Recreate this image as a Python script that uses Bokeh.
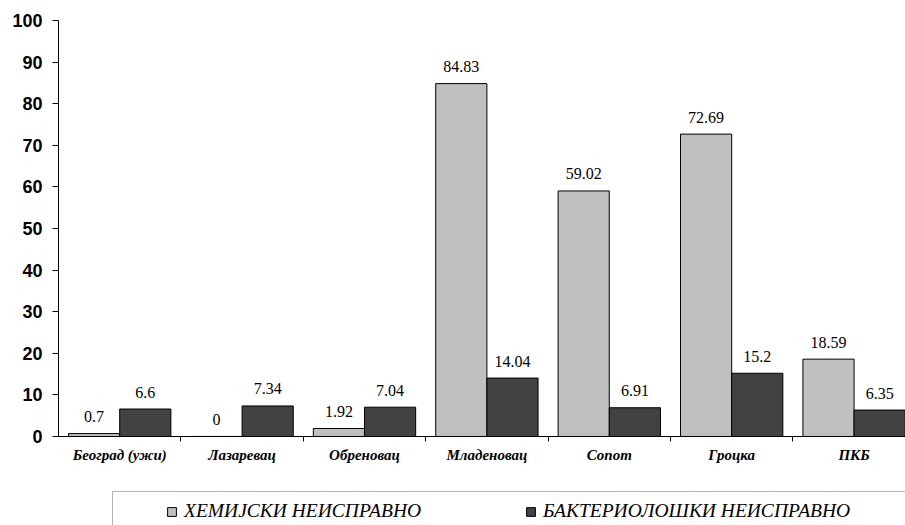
from bokeh.plotting import figure
from bokeh.models import ColumnDataSource, FixedTicker, Legend, LegendItem, Range1d, BoxAnnotation
from bokeh.core.properties import value
from bokeh.embed import file_html
from bokeh.resources import INLINE

categories = ["Београд (ужи)", "Лазаревац", "Обреновац", "Младеновац", "Сопот", "Гроцка", "ПКБ"]
chem = [0.7, 0, 1.92, 84.83, 59.02, 72.69, 18.59]
bact = [6.6, 7.34, 7.04, 14.04, 6.91, 15.2, 6.35]
series_names = ["ХЕМИЈСКИ НЕИСПРАВНО", "БАКТЕРИОЛОШКИ НЕИСПРАВНО"]
y_ticks = [0, 10, 20, 30, 40, 50, 60, 70, 80, 90, 100]

n = len(categories)
bw = 0.418
idx = list(range(n))
src = ColumnDataSource(dict(
    xc=[i + 0.5 - bw / 2 for i in idx],
    xb=[i + 0.5 + bw / 2 for i in idx],
    chem=chem, bact=bact,
    chem_lbl=[f"{v:g}" for v in chem],
    bact_lbl=[f"{v:g}" for v in bact],
))

SERIF = "'Liberation Serif'"
SANS = "'Liberation Sans'"

# frame reaches the bottom of the page; the part below 0 holds the category labels and legend
p = figure(width=905, height=525, output_backend="svg", toolbar_location=None,
           x_range=Range1d(0, 6.92), y_range=Range1d(-21.4, 100),
           min_border_left=58, min_border_right=0, min_border_top=20, min_border_bottom=0)
p.outline_line_color = None
p.grid.grid_line_color = None

r1 = p.vbar(x="xc", width=bw, top="chem", bottom=0, source=src,
            fill_color="#C0C0C0", line_color="black", line_width=1)
r2 = p.vbar(x="xb", width=bw, top="bact", bottom=0, source=src,
            fill_color="#424242", line_color="black", line_width=1)

for xcol, ycol, lcol in (("xc", "chem", "chem_lbl"), ("xb", "bact", "bact_lbl")):
    p.text(x=xcol, y=ycol, text=lcol, source=src, text_font=value(SERIF),
           text_font_size="16px", text_align="center", text_baseline="middle",
           y_offset=-17, text_color="black")

ya = p.yaxis[0]
ya.ticker = FixedTicker(ticks=y_ticks)
ya.bounds = (0, 100)
ya.axis_line_color = "black"
ya.major_tick_out = 6
ya.major_tick_in = 0
ya.minor_tick_line_color = None
ya.major_label_standoff = 10
ya.major_label_text_font = SANS
ya.major_label_text_font_style = "bold"
ya.major_label_text_font_size = "18px"
ya.major_label_text_color = "black"

xa = p.xaxis[0]
xa.fixed_location = 0
xa.ticker = FixedTicker(ticks=[i + 0.5 for i in idx], minor_ticks=list(range(1, n)))
xa.major_label_overrides = {i + 0.5: c for i, c in enumerate(categories)}
xa.axis_line_color = "black"
xa.major_tick_out = 0
xa.major_tick_in = 0
xa.major_tick_line_color = None
xa.minor_tick_out = 5
xa.minor_tick_in = 0
xa.minor_tick_line_color = "black"
xa.major_label_standoff = 6
xa.major_label_text_font = SERIF
xa.major_label_text_font_style = "bold italic"
xa.major_label_text_font_size = "15px"
xa.major_label_text_color = "black"

legend = Legend(items=[LegendItem(label=series_names[0], renderers=[r1]),
                       LegendItem(label=series_names[1], renderers=[r2])],
                orientation="horizontal", location=(108, 3),
                border_line_color=None, background_fill_alpha=0,
                padding=0, spacing=104, label_standoff=7, margin=0,
                glyph_width=11, glyph_height=11, label_height=20,
                label_text_font=SERIF, label_text_font_style="italic",
                label_text_font_size="19.5px", label_text_color="black")
p.add_layout(legend, "center")

legend_box = BoxAnnotation(left=112, right=960, top=491, bottom=560,
                           left_units="canvas", right_units="canvas",
                           top_units="canvas", bottom_units="canvas",
                           fill_color=None, fill_alpha=0, line_color="black", line_width=1)
p.add_layout(legend_box)

open("out.html", "w").write(file_html(p, INLINE))
